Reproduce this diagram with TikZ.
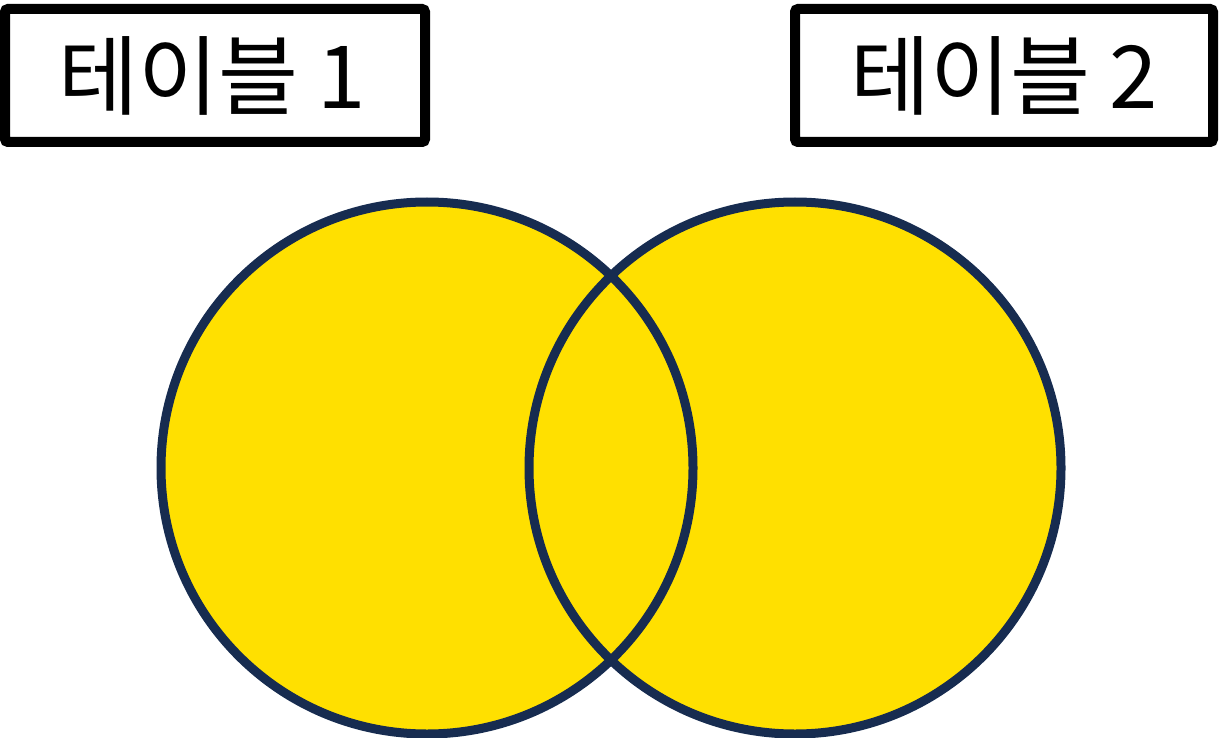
\documentclass[tikz,border=0pt]{standalone}
\usepackage{fontspec}
\newfontfamily\kr{Noto Sans CJK KR}
\definecolor{navy}{HTML}{172C50}
\definecolor{vyellow}{HTML}{FFE000}
\begin{document}
\begin{tikzpicture}[x=1pt,y=-1pt,
  tablebox/.style={draw=black,line width=10pt,rounded corners=3pt,fill=white},
  lbl/.style={font=\kr\fontsize{87}{100}\selectfont,inner sep=0pt}]
\useasboundingbox (0,0) rectangle (1220,738);
\path[tablebox] (5,9) rectangle (425,142);
\path[tablebox] (795,9) rectangle (1213,142);
\node[lbl] (t1) at (212,76) {테이블 1};
\node[lbl] (t2) at (1004,76) {테이블 2};
\fill[vyellow] (427,468) circle (266);
\fill[vyellow] (795,468) circle (266);
\draw[navy,line width=9pt] (427,468) circle (266);
\draw[navy,line width=9pt] (795,468) circle (266);
\end{tikzpicture}
\end{document}
